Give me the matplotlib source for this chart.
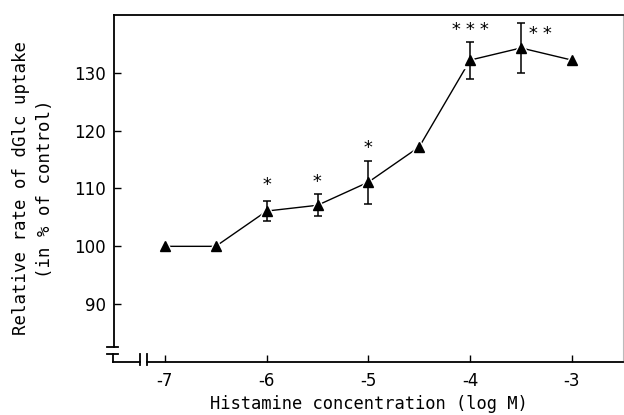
import numpy as np
import matplotlib.pyplot as plt
from matplotlib.lines import Line2D

# data
log_conc = [-7, -6.5, -6, -5.5, -5, -4.5, -4, -3.5, -3]
uptake = [100, 100, 106.1, 107.1, 111.1, 117.2, 132.2, 134.3, 132.2]
err = [0, 0, 1.8, 1.9, 3.7, 0, 3.2, 4.4, 0]
stars = [0, 0, 1, 1, 1, 0, 3, 2, 0]

yticks = [90, 100, 110, 120, 130]
xticks = [-7, -6, -5, -4, -3]

plt.rcParams['font.family'] = 'DejaVu Sans'
mono = 'DejaVu Sans Mono'

fig = plt.figure(figsize=(6.24, 4.15), dpi=100)
ax = fig.add_axes([0.1827, 0.1277, 0.8153, 0.8362])

ax.plot(log_conc, uptake, color='black', lw=1.0, zorder=2)
# white halo so the line stops short of each marker
ax.plot(log_conc, uptake, ls='none', marker='^', ms=11, color='white', zorder=3)
e = np.array(err)
mask = e > 0
ax.errorbar(np.array(log_conc)[mask], np.array(uptake)[mask], yerr=e[mask],
            fmt='none', ecolor='black', elinewidth=1.1, capsize=2.7, capthick=1.1, zorder=4)
ax.plot(log_conc, uptake, ls='none', marker='^', ms=7, color='black', zorder=5)

# significance stars, one text per asterisk
for x, y, er, n in zip(log_conc, uptake, err, stars):
    if n == 0:
        continue
    top = y + er
    if n == 2:
        offs = [(9 + 10 * i, -8) for i in range(n)]
    elif n == 3:
        offs = [((i - 1) * 10, 8) for i in range(n)]
    else:
        offs = [(0, 11 if x == -6 else 9)]
    for dx, dy in offs:
        ax.annotate("*", (x, top), xytext=(dx, dy), textcoords='offset points',
                    ha='center', va='center', fontsize=13, family=mono)

ax.set_xlim(-7.5, -2.5)
ax.set_ylim(80, 140)
ax.set_xticks(xticks)
ax.set_xticklabels([f"-{abs(t)}" for t in xticks])
ax.set_yticks(yticks)
ax.tick_params(direction='in', length=5, width=1.0, labelsize=12, pad=6)
ax.tick_params(axis='x', pad=7)

for side in ['top', 'left', 'bottom']:
    ax.spines[side].set_linewidth(1.3)
ax.spines['right'].set_linewidth(0.8)
ax.spines['right'].set_color('#bbbbbb')

# axis breaks drawn by hand
ax.spines['left'].set_bounds(82.6, 140)
ax.spines['bottom'].set_bounds(-7.18, -2.5)
tr = ax.transAxes
brk = dict(color='black', lw=1.3, transform=tr, clip_on=False)
for yb in [0.043, 0.023]:
    ax.add_line(Line2D([-0.0138, 0.0079], [yb, yb], **brk))
ax.add_line(Line2D([-0.002, -0.002], [0.0, 0.023], **brk))
ax.add_line(Line2D([-0.002, 0.051], [0.0, 0.0], **brk))
for xb in [0.051, 0.064]:
    ax.add_line(Line2D([xb, xb], [-0.0086, 0.023], **brk))

ax.set_xlabel("Histamine concentration (log M)", fontsize=12.3, family=mono, labelpad=4)
ax.set_ylabel("Relative rate of dGlc uptake\n(in % of control)", fontsize=12.5,
              family=mono, labelpad=14, linespacing=1.45)

fig.savefig("out.png", dpi=100)
